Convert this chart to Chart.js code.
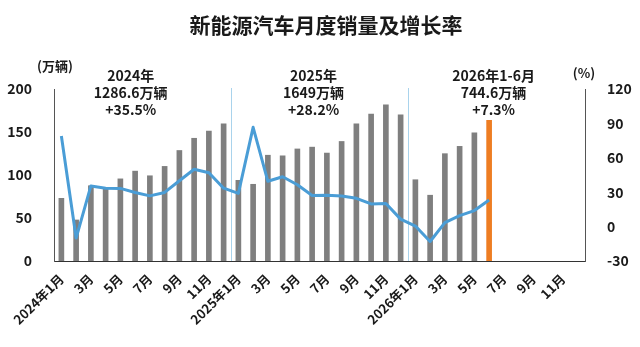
<!DOCTYPE html>
<html>
<head>
<meta charset="utf-8">
<script src="https://cdn.jsdelivr.net/npm/chart.js@4.4.1/dist/chart.umd.min.js"></script>
<style>
  html, body { margin: 0; padding: 0; background: #fff; }
  #wrap { width: 640px; height: 347px; }
</style>
</head>
<body>
<div id="wrap"><canvas id="myChart"></canvas></div>
<script>
// Month labels, 2024-01 .. 2026-12
const months = [];
[2024, 2025, 2026].forEach((y) => {
  for (let m = 1; m <= 12; m++) {
    months.push(m === 1 ? y + "年1月" : m + "月");
  }
});

// Monthly NEV sales (万辆)
const sales = [
  72.9, 47.7, 87.5, 84.5, 95.5, 104.5, 99.1, 110, 128.5, 142.7, 151, 159.4,
  93.8, 89.2, 123, 122.3, 130.3, 132.4, 125.5, 139, 159.6, 170.8, 181.6, 170,
  94.5, 76.5, 124.8, 133.3, 149, 163.5,
  null, null, null, null, null, null,
];

// Year-on-year growth (%)
const growth = [
  79, -10, 35.5, 33.5, 33.3, 29.8, 26.8, 29.8, 40, 50, 47, 33.5,
  29, 86.6, 39.5, 43.5, 36.5, 27.2, 27.3, 26.6, 24.7, 19.8, 20.2, 6.5,
  0.5, -13, 3.5, 9.5, 14, 23.2,
  null, null, null, null, null, null,
];

// Period summaries
const notes = [
  { lines: ["2024年", "1286.6万辆", "+35.5%"], at: 4.7 },
  { lines: ["2025年", "1649万辆", "+28.2%"], at: 17.1 },
  { lines: ["2026年1-6月", "744.6万辆", "+7.3%"], at: 29.3 },
];
const yearBreaks = [11.5, 23.5];

const barColors = sales.map((v, i) => (i === 29 ? "#ee7d22" : "#7f7f7f"));
const FONT = "'Noto Sans CJK SC', 'Noto Sans', sans-serif";

const decor = {
  id: "decor",
  beforeDatasetsDraw(chart) {
    const { ctx, chartArea, scales } = chart;
    ctx.save();
    ctx.strokeStyle = "#a9d3ec";
    ctx.lineWidth = 1;
    yearBreaks.forEach((b) => {
      const x = Math.round(scales.x.getPixelForValue(b)) + 0.5;
      ctx.beginPath();
      ctx.moveTo(x, chartArea.top - 1);
      ctx.lineTo(x, chartArea.bottom);
      ctx.stroke();
    });
    ctx.restore();
  },
  afterDraw(chart) {
    const { ctx, scales } = chart;
    ctx.save();
    ctx.fillStyle = "#1a1a1a";
    ctx.textAlign = "center";
    ctx.textBaseline = "middle";
    ctx.font = "bold 21px " + FONT;
    ctx.fillText("新能源汽车月度销量及增长率", 326, 25);

    ctx.font = "bold 14px " + FONT;
    notes.forEach((n) => {
      const x = scales.x.getPixelForValue(n.at);
      n.lines.forEach((t, k) => {
        ctx.fillText(t, x, 76 + k * 17);
      });
    });

    ctx.font = "bold 13px " + FONT;
    ctx.fillText("(万辆)", 55, 66);
    ctx.fillText("(%)", 584, 73);
    ctx.restore();
  },
};

new Chart(document.getElementById("myChart"), {
  data: {
    labels: months,
    datasets: [
      {
        type: "line",
        data: growth,
        yAxisID: "y1",
        borderColor: "#4a9dd6",
        borderWidth: 3,
        borderJoinStyle: "round",
        pointRadius: 0,
        tension: 0,
        order: 0,
      },
      {
        type: "bar",
        data: sales,
        yAxisID: "y",
        backgroundColor: barColors,
        barThickness: 5,
        order: 1,
      },
    ],
  },
  options: {
    responsive: true,
    maintainAspectRatio: false,
    animation: false,
    layout: { padding: { top: 89, left: 0, right: 0, bottom: 0 } },
    plugins: {
      legend: { display: false },
      tooltip: { enabled: false },
    },
    scales: {
      x: {
        grid: { display: false },
        border: { display: true, color: "#333", width: 1 },
        afterFit: (s) => { s.height = 86; },
        ticks: {
          autoSkip: false,
          maxRotation: 45,
          minRotation: 45,
          padding: 2,
          color: "#1a1a1a",
          font: { family: FONT, size: 13, weight: "bold" },
          callback: function (value, index) {
            return index % 2 === 0 ? this.getLabelForValue(value) : "";
          },
        },
      },
      y: {
        position: "left",
        min: 0,
        max: 200,
        grid: { display: false },
        border: { display: true, color: "#555", width: 1 },
        afterFit: (s) => { s.width = 54; },
        ticks: {
          stepSize: 50,
          padding: 14,
          color: "#1a1a1a",
          font: { family: FONT, size: 14, weight: "bold" },
        },
      },
      y1: {
        position: "right",
        min: -30,
        max: 120,
        grid: { display: false },
        border: { display: true, color: "#555", width: 1 },
        afterFit: (s) => { s.width = 55; },
        ticks: {
          stepSize: 30,
          padding: 14,
          color: "#1a1a1a",
          font: { family: FONT, size: 14, weight: "bold" },
        },
      },
    },
  },
  plugins: [decor],
});
</script>
</body>
</html>
